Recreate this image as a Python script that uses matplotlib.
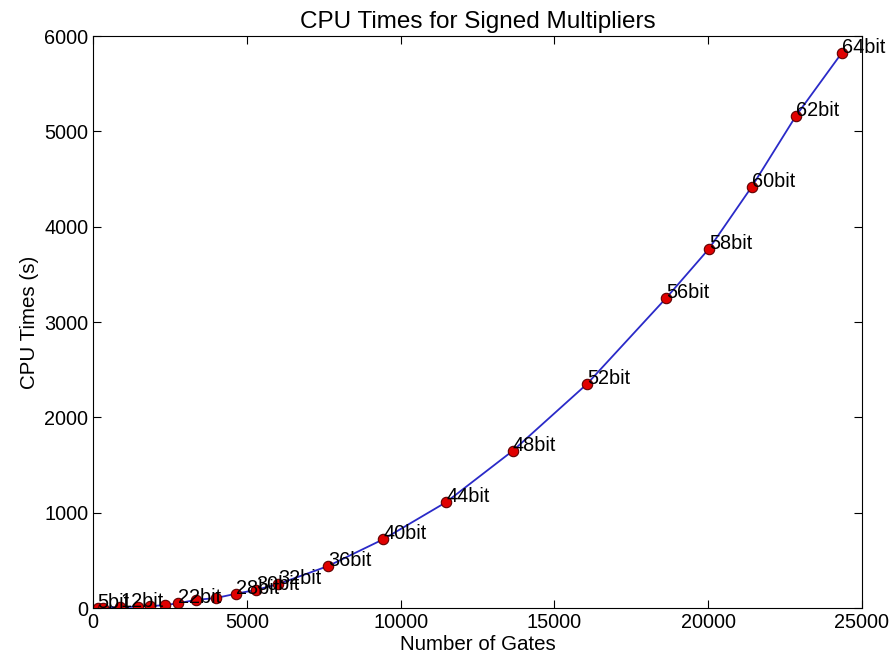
import matplotlib.pyplot as plt

plt.rcParams['font.family'] = ['Liberation Sans', 'DejaVu Sans']

# 乘法器位宽、门数、CPU时间
bits = [5, 8, 12, 16, 18, 20, 22, 24, 26, 28, 30, 32, 36, 40, 44, 48, 52, 56, 58, 60, 62, 64]
gates = [150, 330, 880, 1460, 1850, 2340, 2760, 3350, 4000, 4650, 5300, 6010, 7640,
         9430, 11480, 13650, 16060, 18630, 20030, 21420, 22850, 24350]
cpu_times = [2, 4, 8, 15, 20, 30, 50, 85, 105, 150, 190, 250, 440,
             720, 1110, 1650, 2350, 3250, 3770, 4420, 5160, 5825]
shown = [5, 12, 22, 28, 30, 32, 36, 40, 44, 48, 52, 56, 58, 60, 62, 64]

fig = plt.figure(figsize=(8.95, 6.65), dpi=100)
ax = fig.add_axes([0.104, 0.0857, 0.859, 0.86])

ax.plot(gates, cpu_times, color='#2a2ac8', linewidth=1.3)
ax.plot(gates, cpu_times, 'o', color='#e00000', markeredgecolor='#600000',
        markersize=7.5, markeredgewidth=0.8)

for b, g, t in zip(bits, gates, cpu_times):
    if b in shown:
        ax.annotate('%dbit' % b, (g, t), fontsize=14.3)

ax.set_xlim(0, 25000)
ax.set_ylim(0, 6000)
ax.set_xticks(range(0, 25001, 5000))
ax.set_yticks(range(0, 6001, 1000))
ax.tick_params(direction='in', top=True, right=True, labelsize=14.3, length=6)

ax.set_title('CPU Times for Signed Multipliers', fontsize=17.5)
ax.set_xlabel('Number of Gates', fontsize=14.8, labelpad=2)
ax.set_ylabel('CPU Times (s)', fontsize=14.8)

fig.savefig('out.png', dpi=100)
